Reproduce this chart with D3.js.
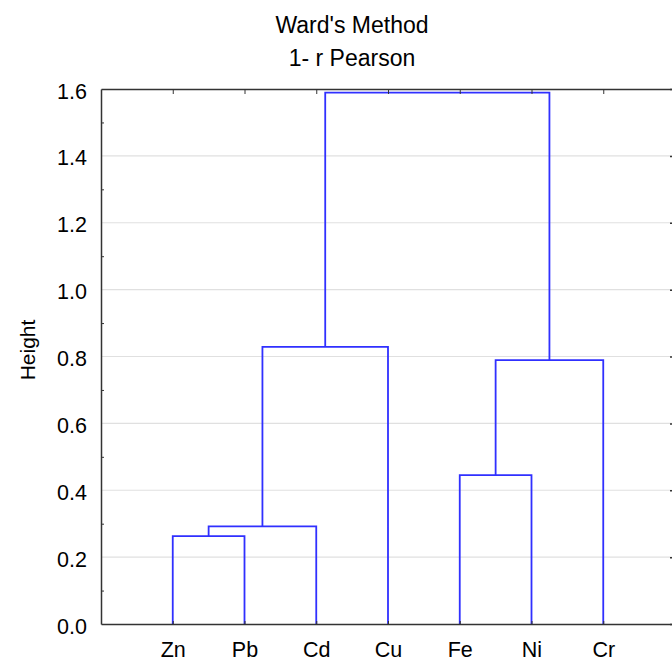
<!DOCTYPE html>
<html>
<head>
<meta charset="utf-8">
<script src="https://cdn.jsdelivr.net/npm/d3@7"></script>
<style>
  body { margin: 0; background: #fff; }
  svg { display: block; font-family: "Liberation Sans", Arial, sans-serif; }
  .grid line { stroke: #e0e0e0; stroke-width: 1.2; }
  .axis path, .axis line { stroke: #333; }
  .axis text { fill: #000; font-size: 21.5px; }
  .link { fill: none; stroke: #3030ff; stroke-width: 1.8; }
</style>
</head>
<body>
<div id="chart"></div>
<script>
  // leaves, left to right
  var leaves = ["Zn", "Pb", "Cd", "Cu", "Fe", "Ni", "Cr"];
  // merges: [left node, right node, height]; new node ids start at leaves.length
  var merges = [
    [0, 1, 0.263],
    [7, 2, 0.292],
    [4, 5, 0.445],
    [9, 6, 0.789],
    [8, 3, 0.829],
    [11, 10, 1.589]
  ];
  var yTicks = [0, 0.2, 0.4, 0.6, 0.8, 1.0, 1.2, 1.4, 1.6];
  var yMinor = [0.1, 0.3, 0.5, 0.7, 0.9, 1.1, 1.3, 1.5];

  (function () {
    var width = 672, height = 661;
    var pLeft = 101, pRight = 675, pTop = 89, pBottom = 624;

    var svg = d3.select("#chart").append("svg")
      .attr("width", width)
      .attr("height", height);

    var x = d3.scaleLinear().domain([0, leaves.length + 1]).range([pLeft, pRight]);
    var y = d3.scaleLinear().domain([0, 1.6]).range([pBottom, pTop]);

    // gridlines
    svg.append("g").attr("class", "grid")
      .selectAll("line")
      .data(yTicks.slice(1, -1))
      .enter().append("line")
      .attr("x1", pLeft).attr("x2", pRight)
      .attr("y1", function (d) { return y(d); })
      .attr("y2", function (d) { return y(d); });

    // node positions
    var nodes = leaves.map(function (name, i) { return { x: i + 1, h: 0 }; });
    merges.forEach(function (m) {
      var a = nodes[m[0]], b = nodes[m[1]];
      nodes.push({ x: (a.x + b.x) / 2, h: m[2] });
    });

    svg.append("g").selectAll("path")
      .data(merges)
      .enter().append("path")
      .attr("class", "link")
      .attr("d", function (m) {
        var a = nodes[m[0]], b = nodes[m[1]];
        var p = d3.path();
        p.moveTo(x(a.x), y(a.h));
        p.lineTo(x(a.x), y(m[2]));
        p.lineTo(x(b.x), y(m[2]));
        p.lineTo(x(b.x), y(b.h));
        return p.toString();
      });

    var leafPos = leaves.map(function (d, i) { return i + 1; });

    // bottom axis with leaf names
    svg.append("g").attr("class", "axis")
      .attr("transform", "translate(0," + pBottom + ")")
      .call(d3.axisBottom(x).tickValues(leafPos).tickSize(-3).tickSizeOuter(0)
        .tickPadding(18).tickFormat(function (d) { return leaves[d - 1]; }))
      .select(".domain").attr("stroke-width", 1.5);

    // top axis
    svg.append("g").attr("class", "axis")
      .attr("transform", "translate(0," + pTop + ")")
      .call(d3.axisTop(x).tickValues(leafPos).tickSize(-5).tickSizeOuter(0).tickFormat(""))
      .select(".domain").attr("stroke-width", 1.5);

    // left axis
    var gl = svg.append("g").attr("class", "axis")
      .attr("transform", "translate(" + pLeft + ",0)")
      .call(d3.axisLeft(y).tickValues(yTicks).tickSize(0).tickSizeOuter(0)
        .tickPadding(14).tickFormat(d3.format(".1f")));
    gl.select(".domain").attr("stroke-width", 1.5);
    gl.selectAll("text").attr("dy", "0.42em");

    svg.append("g").attr("class", "axis")
      .attr("transform", "translate(" + pLeft + ",0)")
      .call(d3.axisLeft(y).tickValues(yMinor).tickSize(-3).tickSizeOuter(0).tickFormat(""))
      .select(".domain").remove();

    // right axis
    svg.append("g").attr("class", "axis")
      .attr("transform", "translate(" + pRight + ",0)")
      .call(d3.axisRight(y).tickValues(yTicks).tickSize(-5).tickSizeOuter(0).tickFormat(""))
      .selectAll("line").attr("stroke-width", 1.5);

    svg.append("g").attr("class", "axis")
      .attr("transform", "translate(" + pRight + ",0)")
      .call(d3.axisRight(y).tickValues(yMinor).tickSize(-3).tickSizeOuter(0).tickFormat(""))
      .select(".domain").remove();

    // titles
    svg.append("text")
      .attr("x", 352).attr("y", 33)
      .attr("text-anchor", "middle")
      .style("font-size", "23px")
      .text("Ward's Method");

    svg.append("text")
      .attr("x", 352).attr("y", 66)
      .attr("text-anchor", "middle")
      .style("font-size", "23px")
      .text("1- r Pearson");

    svg.append("text")
      .attr("transform", "translate(35,350) rotate(-90)")
      .attr("text-anchor", "middle")
      .style("font-size", "21px")
      .text("Height");
  })();
</script>
</body>
</html>
